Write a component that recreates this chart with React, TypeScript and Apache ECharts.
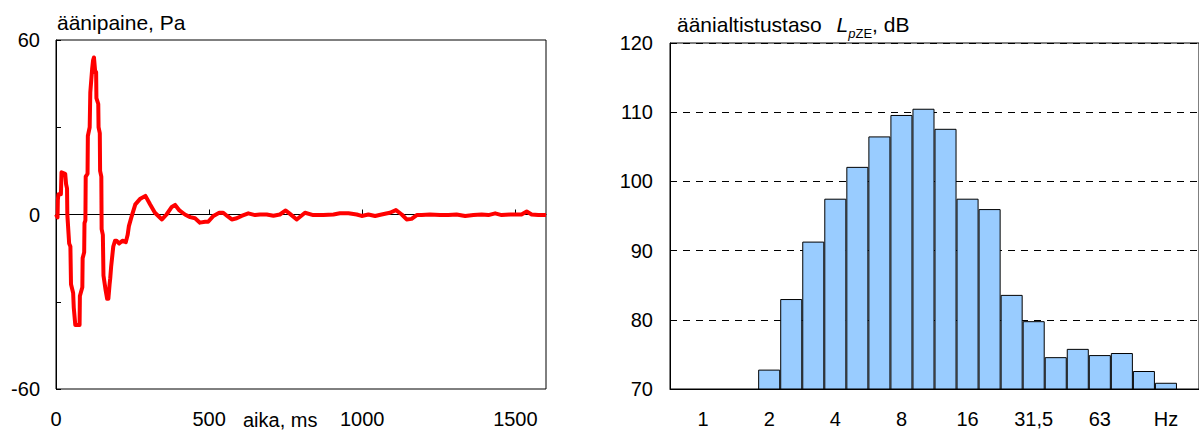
import React, { useEffect, useRef } from 'react';
import * as echarts from 'echarts';

// Left chart: sound pressure waveform (time in ms, pressure in Pa)
const pressureTimeMs = [
  0, 5, 6, 8, 16, 18, 30, 33, 36, 37, 43, 47, 49, 56, 58, 63, 77, 78, 86, 87,
  92, 93, 96, 97, 103, 104, 110, 112, 118, 121, 124, 128, 131, 132, 138, 139, 143, 144, 148, 149,
  153, 155, 162, 167, 171, 175, 177, 180, 184, 187, 193, 198, 206, 217, 228, 234, 238, 246, 259, 274,
  292, 307, 323, 346, 361, 378, 389, 403, 421, 438, 454, 470, 487, 497, 514, 533, 546, 559, 574, 590,
  606, 628, 650, 666, 688, 710, 731, 750, 764, 786, 813, 840, 873, 906, 927, 955, 982, 998, 1020, 1042,
  1063, 1090, 1110, 1129, 1145, 1161, 1178, 1194, 1221, 1254, 1281, 1308, 1336, 1363, 1390, 1412, 1434, 1455, 1482, 1504,
  1520, 1537, 1553, 1575, 1600,
];
const pressurePa = [
  0, -1, 5, 7, 7, 14.5, 14, 10.4, 9, 0, -10, -11, -24, -27, -32, -38, -38, -28, -25, -15,
  -13, -3, -2, 13, 14, 27, 30, 42, 50, 53, 54, 49, 49, 40, 38, 30, 28, 15, 13, -5,
  -7, -21, -26, -29, -29, -24, -22, -18, -14, -11, -9, -9, -10, -9, -9.5, -7, -4, -1, 3.5, 5.3,
  6.4, 3.5, 0.6, -1.7, 0, 2.6, 3.3, 1.4, 0, -0.9, -1.3, -2.8, -2.5, -2.5, -0.5, 0.6, 0.6, -0.5, -1.7, -1.3,
  -0.5, 0.4, -0.2, 0, 0, -0.4, 0, 1.4, 0.2, -1.7, 0.6, -0.2, -0.2, 0, 0.4, 0.4, 0, -0.5, 0, -0.5,
  0, 0.6, 1.5, 0, -1.7, -1.5, -0.2, -0.2, 0, -0.2, -0.2, 0, -0.5, -0.2, 0, -0.2, 0.4, -0.2, 0, 0,
  0, 1, 0, -0.2, -0.2,
];
const pressureLabelledTicks = [60, 0, -60];

// Right chart: 1/3-octave band sound exposure level (dB)
const bandCenterHz = [
  '0.8', '1', '1.25', '1.6', '2', '2.5', '3.15', '4', '5', '6.3', '8', '10',
  '12.5', '16', '20', '25', '31.5', '40', '50', '63', '80', '100', '125', '160',
];
const bandTickLabels = [
  '', '1', '', '', '2', '', '', '4', '', '', '8', '',
  '', '16', '', '', '31,5', '', '', '63', '', '', 'Hz', '',
];
const levelDb = [
  null, null, null, null, 72.8, 83.0, 91.3, 97.5, 102.1, 106.5, 109.6, 110.5,
  107.6, 97.5, 96.0, 83.6, 79.8, 74.6, 75.8, 74.9, 75.2, 72.6, 70.9, null,
];

const FONT = '"Liberation Sans", Arial, sans-serif';

export default function App() {
  const ref = useRef<HTMLDivElement>(null);

  useEffect(() => {
    if (!ref.current) return;
    const chart = echarts.init(ref.current, undefined, { renderer: 'svg' });
    const labelStyle = { color: '#000', fontSize: 20, fontFamily: FONT };
    chart.setOption({
      animation: false,
      textStyle: { fontFamily: FONT },
      grid: [
        { left: 56, top: 40, width: 490, height: 349, show: true, borderColor: '#000', borderWidth: 1 },
        { left: 670, top: 43, width: 531, height: 346, show: true, borderColor: '#000', borderWidth: 1 },
      ],
      xAxis: [
        {
          gridIndex: 0,
          type: 'value',
          min: 0,
          max: 1600,
          interval: 500,
          axisLine: { show: true, lineStyle: { color: '#000', width: 1 } },
          axisTick: { show: true, inside: true, length: 5, lineStyle: { color: '#000' } },
          axisLabel: { ...labelStyle, margin: 20, showMaxLabel: false, formatter: (v: number) => String(v) },
          splitLine: { show: false },
        },
        {
          gridIndex: 1,
          type: 'category',
          data: bandCenterHz,
          axisLine: { show: true, lineStyle: { color: '#000', width: 1 } },
          axisTick: { show: false },
          axisLabel: {
            ...labelStyle,
            margin: 20,
            interval: 0,
            formatter: (_v: string, i: number) => bandTickLabels[i],
          },
          splitLine: { show: false },
        },
      ],
      yAxis: [
        {
          gridIndex: 0,
          type: 'value',
          min: -60,
          max: 60,
          interval: 30,
          axisLine: { show: true, lineStyle: { color: '#000', width: 1 } },
          axisTick: { show: true, inside: true, length: 5, lineStyle: { color: '#000' } },
          axisLabel: {
            ...labelStyle,
            margin: 16,
            formatter: (v: number) => (pressureLabelledTicks.includes(v) ? String(v) : ''),
          },
          splitLine: { show: false },
        },
        {
          gridIndex: 1,
          type: 'value',
          min: 70,
          max: 120,
          interval: 10,
          axisLine: { show: true, lineStyle: { color: '#000', width: 1 } },
          axisTick: { show: false },
          axisLabel: { ...labelStyle, margin: 17 },
          splitLine: { show: true, lineStyle: { color: '#000', width: 1, type: [7, 6] } },
        },
      ],
      series: [
        {
          type: 'line',
          xAxisIndex: 0,
          yAxisIndex: 0,
          data: pressureTimeMs.map((t, i) => [t, pressurePa[i]]),
          showSymbol: false,
          symbol: 'none',
          lineStyle: { color: '#ff0000', width: 4, join: 'round' },
          z: 3,
        },
        {
          type: 'bar',
          xAxisIndex: 1,
          yAxisIndex: 1,
          data: levelDb,
          barCategoryGap: '0%',
          itemStyle: { color: '#99ccff', borderColor: '#000', borderWidth: 1 },
        },
      ],
      graphic: [
        {
          type: 'text',
          x: 57,
          y: 22.5,
          style: { text: 'äänipaine, Pa', fill: '#000', fontSize: 21, fontFamily: FONT, verticalAlign: 'middle' },
        },
        {
          type: 'text',
          x: 243,
          y: 420,
          style: { text: 'aika, ms', fill: '#000', fontSize: 20, fontFamily: FONT, verticalAlign: 'middle' },
        },
        {
          type: 'text',
          x: 677,
          y: 13.7,
          style: {
            text: '{m|äänialtistustaso }{i|L}{sp|p}{s|ZE}{m|, dB}',
            verticalAlign: 'top',
            fontFamily: FONT,
            rich: {
              m: { fontSize: 21, fontFamily: FONT, fill: '#000', lineHeight: 21, verticalAlign: 'top' },
              i: { fontSize: 21, fontFamily: FONT, fill: '#000', fontStyle: 'italic', lineHeight: 21, verticalAlign: 'top', padding: [0, 0, 0, 9] },
              sp: { fontSize: 13, fontFamily: FONT, fill: '#000', fontStyle: 'italic', lineHeight: 13, verticalAlign: 'top', padding: [13.5, 0, 0, 0] },
              s: { fontSize: 13, fontFamily: FONT, fill: '#000', lineHeight: 13, verticalAlign: 'top', padding: [13.5, 0, 0, 0] },
            },
          },
        },
      ],
    });
    return () => chart.dispose();
  }, []);

  return (
    <div
      ref={ref}
      style={{ position: 'absolute', left: 0, top: 0, width: 1199, height: 430, background: '#fff' }}
    />
  );
}
